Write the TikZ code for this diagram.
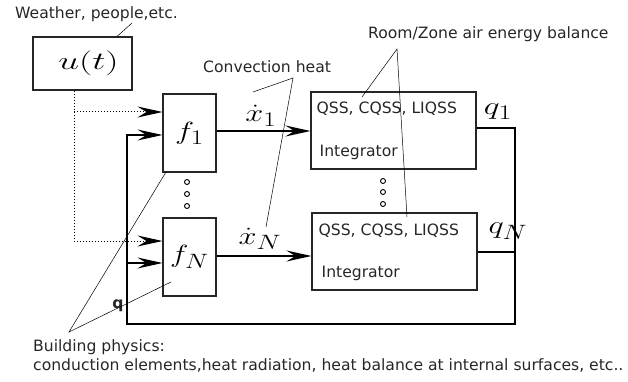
\documentclass[tikz,border=0pt]{standalone}
\usepackage{fontspec}
\setmainfont{DejaVu Sans}
\usetikzlibrary{arrows.meta,positioning,calc}
\newcommand{\wmath}[2][1.4]{\scalebox{#1}[1]{$#2$}}
\tikzset{
  >={Stealth[length=25pt,width=11pt,inset=9pt]},
  every node/.style={inner sep=0pt},
  blk/.style={draw=black!85,line width=1.1pt},
  lbl/.style={font=\fontsize{15.6}{19}\selectfont,anchor=west,text=black!85},
  big/.style={font=\fontsize{28}{28}\selectfont},
  sig/.style={line width=1.1pt},
  flow/.style={line width=2pt},
  inp/.style={line width=1pt,dotted},
  lead/.style={line width=0.5pt},
  ring/.style={circle,draw,line width=0.9pt,minimum size=5pt},
}

\begin{document}
\begin{tikzpicture}[x=1pt,y=-1pt]
  \useasboundingbox (0,0) rectangle (628,382);

  % blocks (pixel grid, y down)
  \node[blk,big,minimum width=99pt,minimum height=53pt] (u) at (82.5,63.5) {\hspace{12pt}\wmath[1.5]{u(t)}};
  \node[blk,big,minimum width=53pt,minimum height=78pt] (f1) at (189.5,133) {\wmath[1.3]{f_1}};
  \node[blk,big,minimum width=53pt,minimum height=78pt] (fN) at (189.5,257) {\wmath[1.25]{f_N}};
  \node[blk,minimum width=165pt,minimum height=77pt] (int1) at (393.5,130.5) {};
  \node[blk,minimum width=165pt,minimum height=77pt] (intN) at (394.5,251.5) {};

  % texts inside the integrator blocks
  \node[lbl] (m1) at ($(int1.north west)+(6,17)$) {QSS, CQSS, LIQSS};
  \node[lbl] (i1) at ($(int1.north west)+(9,61)$) {Integrator};
  \node[lbl] (mN) at ($(intN.north west)+(7,18)$) {QSS, CQSS, LIQSS};
  \node[lbl] (iN) at ($(intN.north west)+(10,61)$) {Integrator};

  % vertical dots
  \foreach \y in {182,194,206} \node[ring] at (187,\y) {};
  \foreach \y in {181,192,204} \node[ring] at (383,\y) {};

  % convection heat flows
  \draw[flow,->] ([yshift=2pt]f1.east) -- ([yshift=2pt]f1.east -| int1.west);
  \draw[flow,->] ([yshift=1pt]fN.east) -- ([yshift=1pt]fN.east -| intN.west);
  \node[big] (x1) at (261,116) {\wmath[1.3]{\dot{x}_1}};
  \node[big] (xN) at (260,239) {\wmath[1.3]{\dot{x}_N}};

  % feedback of the states
  \coordinate (rt) at (515,324);
  \coordinate (lf) at (127,324);
  \coordinate (fNin) at ($(fN.west)+(0,6)$);
  \draw[sig,->] ([yshift=2.5pt]int1.east) -| (rt) -- (lf) |- ([yshift=-2pt]f1.west);
  \draw[sig,->] (fNin -| lf) -- (fNin);
  \draw[flow] (intN.east) -- (intN.east -| rt);
  \node[big] (q1) at (498,112) {\wmath[1.35]{q_1}};
  \node[big] (qN) at (508,231) {\wmath[1.3]{q_N}};
  \node[font=\bfseries\fontsize{15.6}{15}\selectfont,text=black!85] (q) at (118,306) {q};

  % inputs
  \coordinate (ud) at ([xshift=-8.5pt]u.south);
  \coordinate (f1in) at ([yshift=21pt]f1.west);
  \draw[inp,->] (ud) |- ([yshift=16pt]fN.west);
  \draw[inp,->] (ud |- f1in) -- (f1in);

  % annotations
  \node[lbl] (wea) at (15,14) {Weather, people,etc.};
  \coordinate (wt) at (132,23);
  \draw[lead] ([xshift=34.5pt]u.north) -- (wt);

  \node[lbl] (conv) at (203,67) {Convection heat};
  \coordinate (cv) at (293,78);
  \coordinate (cv1) at (253,92);
  \coordinate (cvN) at (266,227);
  \draw[lead] (cv1) -- (cv) -- (cvN);

  \node[lbl] (room) at (368,34) {Room/Zone air energy balance};
  \coordinate (rz) at (397,49);
  \coordinate (rz1) at (362,97);
  \coordinate (rzN) at (407,217);
  \draw[lead] (rz1) -- (rz) -- (rzN);

  \node[lbl,align=left] (bld) at (33,355.5) {Building physics:\\conduction elements,heat radiation, heat balance at internal surfaces, etc..};
  \coordinate (bp) at (69,332);
  \coordinate (bp1) at (166,172);
  \coordinate (bpN) at (171,282);
  \draw[lead] (bp1) -- (bp) -- (bpN);
\end{tikzpicture}
\end{document}
